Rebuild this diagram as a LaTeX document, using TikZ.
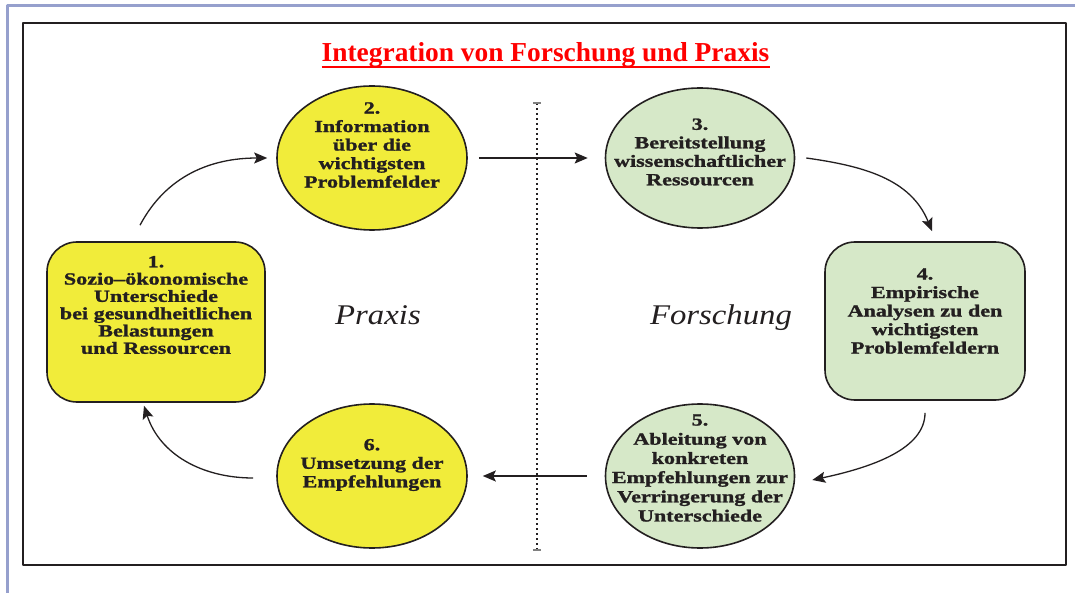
\documentclass[tikz,border=0pt]{standalone}
\usepackage{fontspec}
\setmainfont{Liberation Serif}
\newfontfamily\boxfont{Liberation Serif Bold}[FakeStretch=1.3,FakeBold=1.4]
\newfontfamily\seitefont{Liberation Serif}[FakeStretch=1.15]
\usetikzlibrary{shapes.geometric,arrows.meta}

\definecolor{gelb}{RGB}{241,236,58}
\definecolor{gruen}{RGB}{214,232,200}
\definecolor{rahmenblau}{RGB}{150,160,205}
\definecolor{dunkel}{RGB}{35,31,32}

\begin{document}
\begin{tikzpicture}[
  x=1pt,
  y=-1pt,
  line join=round,
  oval/.style={ellipse, draw=dunkel, line width=1.6pt,
    minimum width=190pt, minimum height=144pt, inner sep=0pt},
  kasten/.style={rectangle, rounded corners=30pt, draw=dunkel,
    line width=1.6pt, inner sep=0pt},
  inhalt/.style={align=center, text=dunkel, inner sep=0pt,
    font=\boxfont\fontsize{17}{18.5}\selectfont},
  seite/.style={text=dunkel, inner sep=0pt,
    font=\seitefont\itshape\fontsize{28.5}{32}\selectfont},
  pfeil/.style={-{Stealth[length=13pt,width=11pt,inset=2.5pt]},
    line width=1.3pt, draw=dunkel}
]
  \useasboundingbox (0,0) rectangle (1075,593);
  \fill[white] (0,0) rectangle (1075,593);

  % Rahmen
  \draw[rahmenblau, line width=3pt] (7,593) -- (7,6) -- (1075,6);
  \draw[dunkel, line width=1.5pt] (23,23) rectangle (1066,565);

  % Titel
  \node[anchor=base, inner sep=0pt, text=red,
    font=\bfseries\fontsize{27.4}{30}\selectfont] (titel) at (545.5,62)
    {Integration von Forschung und Praxis};
  \draw[red, line width=2pt]
    ([yshift=-5pt]titel.base west) -- ([yshift=-5pt]titel.base east);

  % Trennlinie zwischen Praxis und Forschung
  \coordinate (oben) at (537,103);
  \coordinate (unten) at (537,550);
  \draw[dunkel, line width=1.7pt, dash pattern=on 1.7pt off 3.3pt]
    (oben) -- (unten);
  \draw[gray, line width=1.2pt] ([xshift=-4pt]oben) -- ([xshift=4pt]oben);
  \draw[gray, line width=1.2pt] ([xshift=-4pt]unten) -- ([xshift=4pt]unten);

  % Felder
  \node[kasten, fill=gelb, minimum width=218pt, minimum height=160pt]
    (n1) at (156,322) {};
  \node[oval, fill=gelb] (n2) at (372,158) {};
  \node[oval, fill=gruen, minimum width=189pt, minimum height=140pt]
    (n3) at (700,158) {};
  \node[kasten, fill=gruen, minimum width=200pt, minimum height=158pt]
    (n4) at (925,321) {};
  \node[oval, fill=gruen, minimum width=189pt] (n5) at (700,476) {};
  \node[oval, fill=gelb] (n6) at (372,476) {};

  % Texte
  \node[inhalt, font=\boxfont\fontsize{17}{17.3}\selectfont]
    (t1) at (156,305) {1.\\Sozio–ökonomische\\Unterschiede\\
    bei gesundheitlichen\\Belastungen\\und Ressourcen};
  \node[inhalt] (t2) at (372,145)
    {2.\\Information\\über die\\wichtigsten\\Problemfelder};
  \node[inhalt] (t3) at (700,152)
    {3.\\Bereitstellung\\wissenschaftlicher\\Ressourcen};
  \node[inhalt] (t4) at (925,311)
    {4.\\Empirische\\Analysen zu den\\wichtigsten\\Problemfeldern};
  \node[inhalt, font=\boxfont\fontsize{17}{19.2}\selectfont]
    (t5) at (700,468) {5.\\Ableitung von\\konkreten\\Empfehlungen zur\\
    Verringerung der\\Unterschiede};
  \node[inhalt] (t6) at (372,465) {6.\\Umsetzung der\\Empfehlungen};

  \node[seite] (praxis) at (378,315) {Praxis};
  \node[seite] (forschung) at (721,318) {Forschung};

  % Pfeile im Kreislauf
  \draw[pfeil] ([shift={(-16,-16)}]n1.north)
    to[out=62, in=180] ([xshift=-9pt]n2.west);
  \draw[pfeil] ([xshift=11pt]n2.east) -- ([xshift=-17pt]n3.west);
  \draw[pfeil] ([xshift=11pt]n3.east)
    to[out=-8, in=112] ([shift={(7,-10)}]n4.north);
  \draw[pfeil] ([yshift=-12pt]n4.south)
    to[out=-90, in=12, out looseness=0.7, in looseness=1.2]
    ([shift={(17,4)}]n5.east);
  \draw[pfeil] ([xshift=-18pt]n5.west) -- ([xshift=15pt]n6.east);
  \draw[pfeil] ([shift={(-23,2)}]n6.west)
    to[out=180, in=-72] ([shift={(-12,3)}]n1.south);
\end{tikzpicture}
\end{document}
